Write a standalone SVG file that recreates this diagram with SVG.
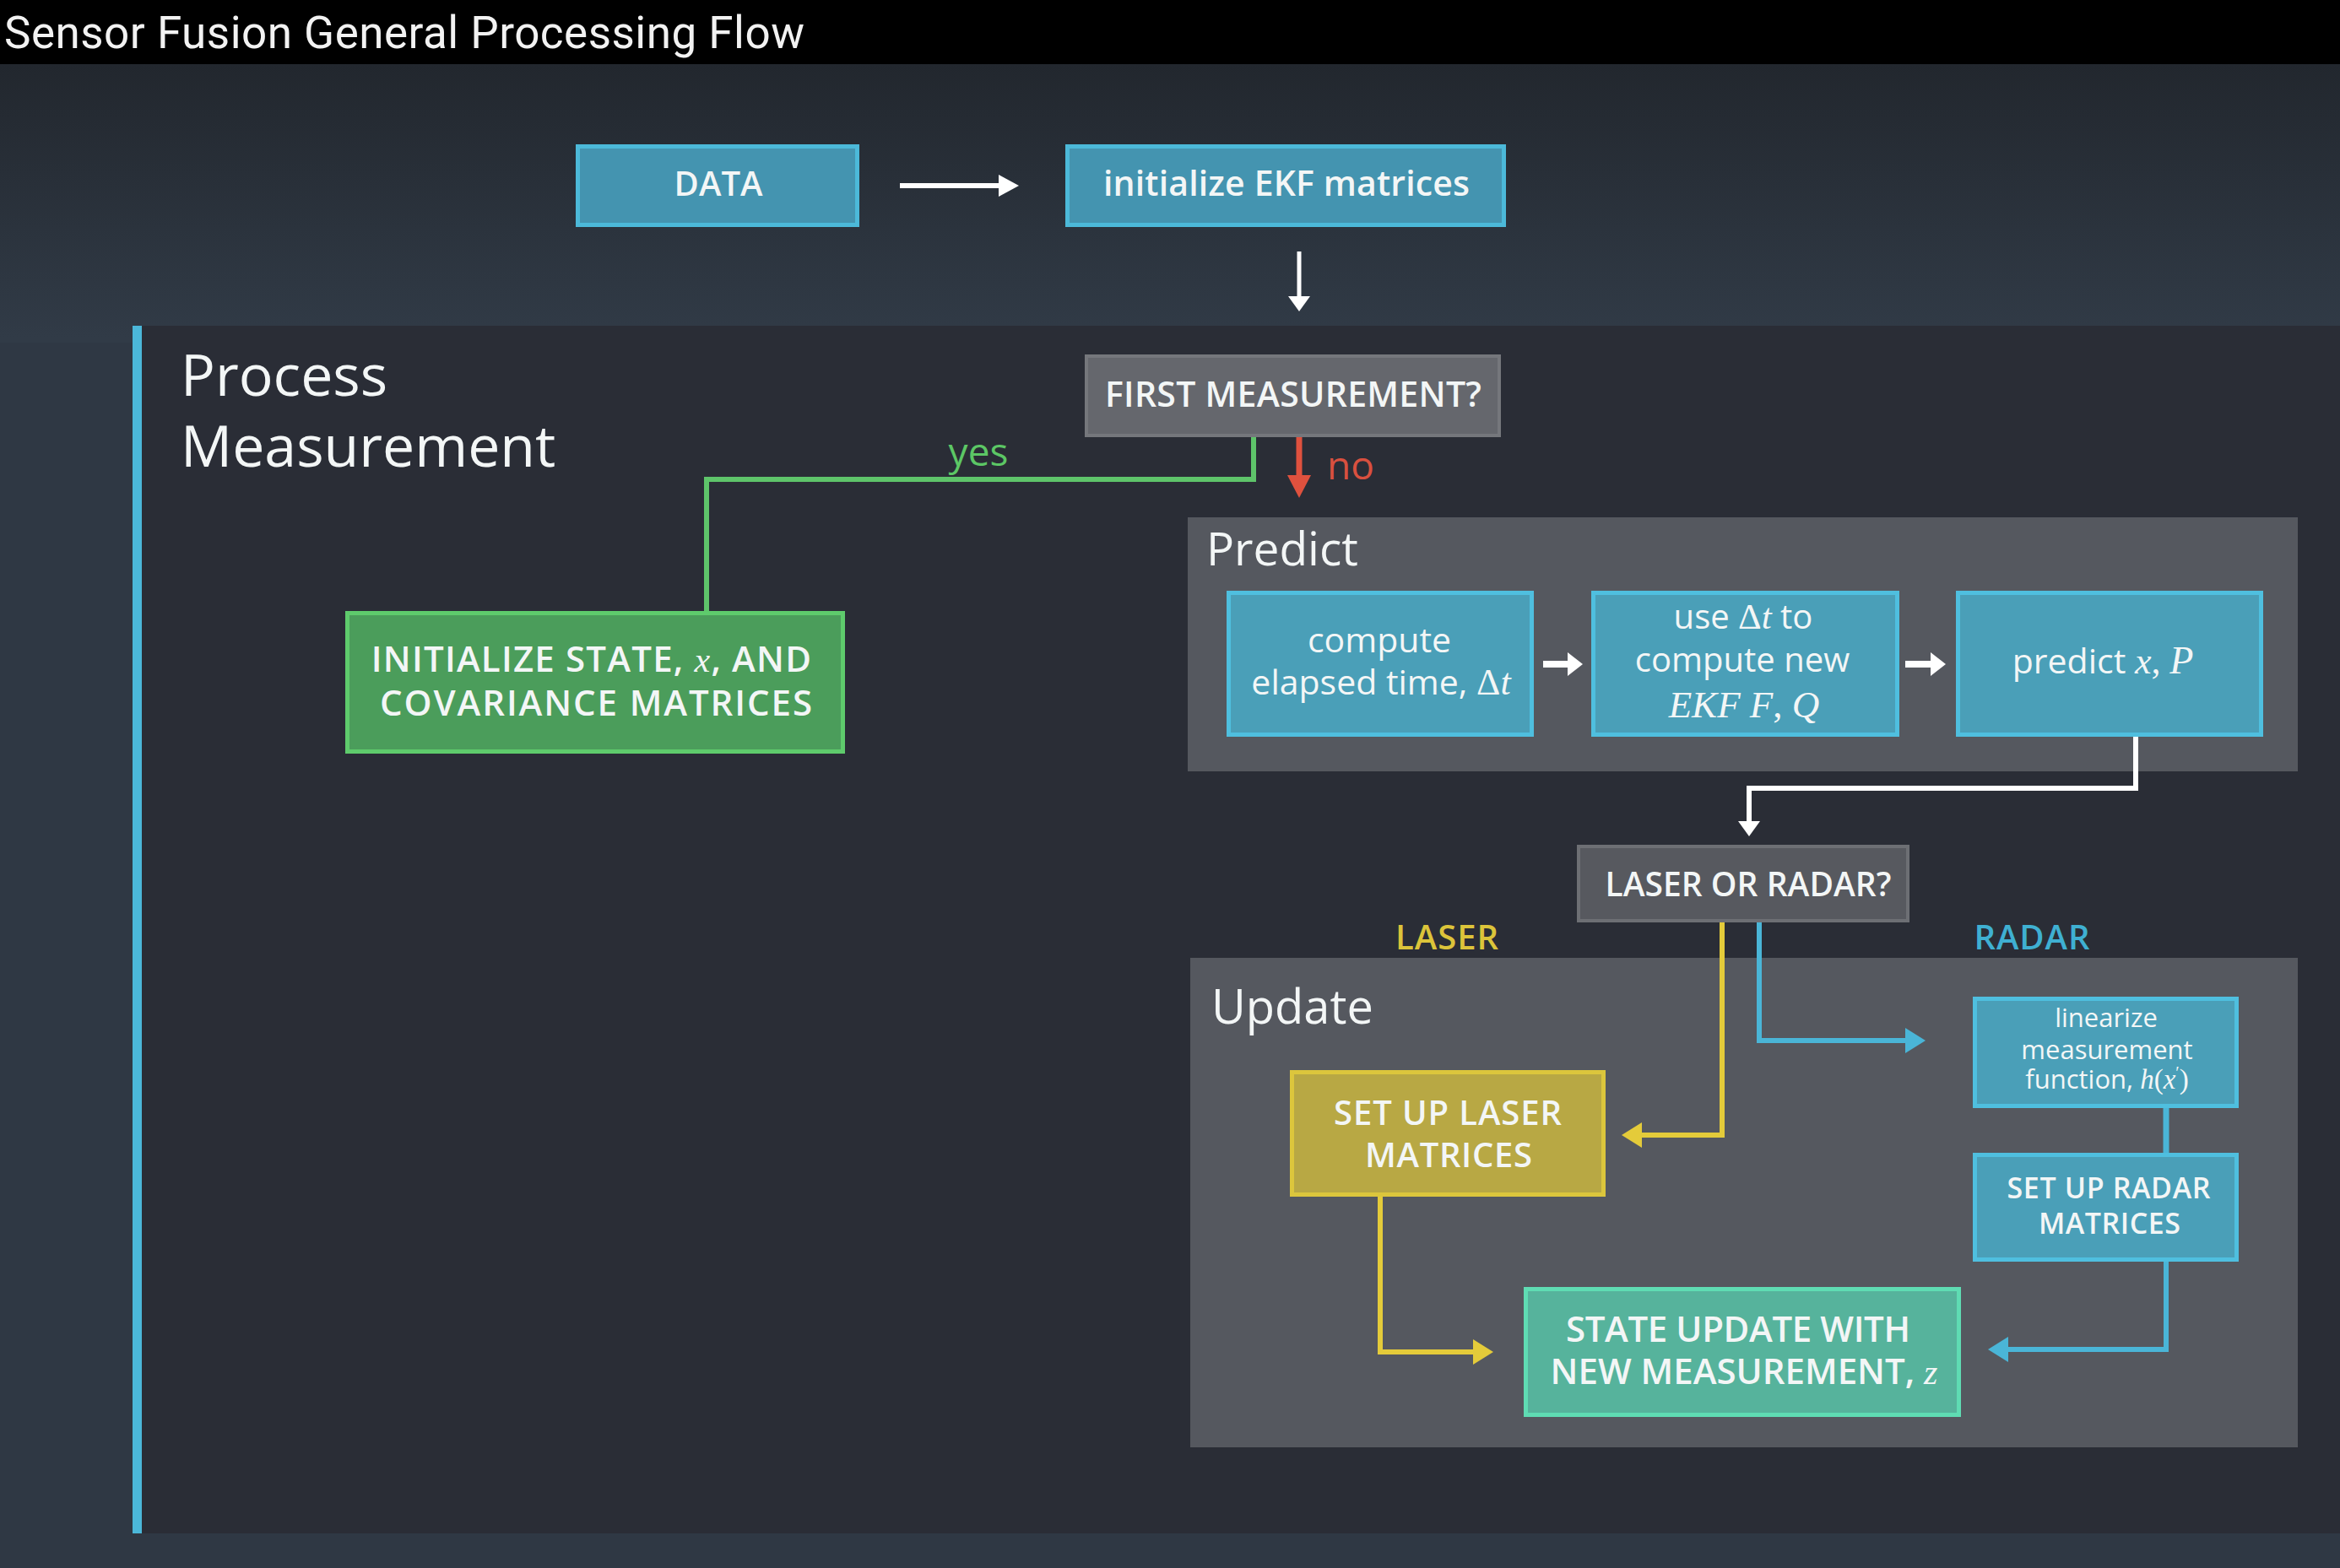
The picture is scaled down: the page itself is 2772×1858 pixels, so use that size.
<svg xmlns="http://www.w3.org/2000/svg" width="2772" height="1858" viewBox="0 0 2772 1858">
<defs>
<linearGradient id="bgTop" x1="0" y1="76" x2="0" y2="400" gradientUnits="userSpaceOnUse">
<stop offset="0" stop-color="#22272e"/>
<stop offset="1" stop-color="#313b47"/>
</linearGradient>
<marker id="hW" viewBox="0 0 24 26" markerWidth="24" markerHeight="26" refX="2" refY="13" orient="auto" markerUnits="userSpaceOnUse"><path d="M0,0 L24,13 L0,26 z" fill="#ffffff"/></marker>
<marker id="hWs" viewBox="0 0 18 26" markerWidth="18" markerHeight="26" refX="2" refY="13" orient="auto" markerUnits="userSpaceOnUse"><path d="M0,0 L18,13 L0,26 z" fill="#ffffff"/></marker>
<marker id="hWp" viewBox="0 0 18 28" markerWidth="18" markerHeight="28" refX="2" refY="14" orient="auto" markerUnits="userSpaceOnUse"><path d="M0,0 L18,14 L0,28 z" fill="#ffffff"/></marker>
<marker id="hR" viewBox="0 0 27 28" markerWidth="27" markerHeight="28" refX="2" refY="14" orient="auto" markerUnits="userSpaceOnUse"><path d="M0,0 L27,14 L0,28 z" fill="#df513e"/></marker>
<marker id="hY" viewBox="0 0 24 30" markerWidth="24" markerHeight="30" refX="2" refY="15" orient="auto" markerUnits="userSpaceOnUse"><path d="M0,0 L24,15 L0,30 z" fill="#e4cb3a"/></marker>
<marker id="hB" viewBox="0 0 24 30" markerWidth="24" markerHeight="30" refX="2" refY="15" orient="auto" markerUnits="userSpaceOnUse"><path d="M0,0 L24,15 L0,30 z" fill="#4ab5d7"/></marker>
</defs>
<style>
.t{font-family:"Open Sans","Liberation Sans",sans-serif;fill:#f3f6f6}
.b{font-weight:600}
.m{font-family:"Liberation Serif",serif;font-style:italic;font-weight:400}
.mu{font-family:"Liberation Serif",serif;font-style:normal;font-weight:400}
.c{text-anchor:middle}
.blue{fill:#4a9fb8;stroke:#4fbfdf;stroke-width:5}
.blueTop{fill:#4494b0;stroke:#4cb9d9;stroke-width:5}
.gray{fill:#65676d;stroke:#75777c;stroke-width:4}
.gray2{fill:#57595f;stroke:#6d6f74;stroke-width:4}
.green{fill:#4b9d5b;stroke:#5ecb6c;stroke-width:5}
.yellow{fill:#b8a844;stroke:#dcc63c;stroke-width:5}
.teal{fill:#56b39c;stroke:#5fdcb3;stroke-width:5}
.panel{fill:#55585f}
.ln{fill:none;stroke-linejoin:miter}
</style>

<!-- background -->
<rect x="0" y="0" width="2772" height="1858" fill="#2f3844"/>
<rect x="0" y="76" width="2772" height="330" fill="url(#bgTop)"/>
<rect x="0" y="0" width="2772" height="76" fill="#000000"/>
<text x="5" y="57" font-family="Roboto,'Liberation Sans',sans-serif" font-size="53" fill="#f2f2f2" textLength="948">Sensor Fusion General Processing Flow</text>

<!-- Process Measurement panel -->
<g id="process-measurement">
<rect x="157" y="386" width="2615" height="1431" fill="#2a2d36"/>
<rect x="157" y="386" width="11" height="1431" fill="#4bb7d9"/>
<text class="t" x="214" y="469" font-size="68">Process</text>
<text class="t" x="214" y="553" font-size="68">Measurement</text>
</g>

<g id="predict-panel">
<rect class="panel" x="1407" y="613" width="1315" height="301"/>
<text class="t" x="1429" y="670" font-size="55">Predict</text>
</g>

<g id="update-panel">
<rect class="panel" x="1410" y="1135" width="1312" height="580"/>
<text class="t" x="1435" y="1213" font-size="56">Update</text>
</g>

<!-- nodes -->
<g id="data">
<rect class="blueTop" x="684.5" y="173.5" width="331" height="93"/>
<text class="t b c" x="851" y="232" font-size="40" textLength="105">DATA</text>
</g>

<g id="init-ekf">
<rect class="blueTop" x="1264.5" y="173.5" width="517" height="93"/>
<text class="t b c" x="1524" y="232" font-size="41" textLength="434">initialize EKF matrices</text>
</g>

<g id="first-measurement">
<rect class="gray" x="1287" y="422" width="489" height="94"/>
<text class="t b c" x="1532" y="482" font-size="41" textLength="446">FIRST MEASUREMENT?</text>
</g>

<g id="initialize-state">
<rect class="green" x="411.5" y="726.5" width="587" height="164"/>
<text class="t b c" x="701" y="796" font-size="42" letter-spacing="1.2">INITIALIZE STATE, <tspan class="m">x</tspan>, AND</text>
<text class="t b c" x="706" y="848" font-size="42" textLength="512">COVARIANCE MATRICES</text>
</g>

<g id="compute-elapsed">
<rect class="blue" x="1455.5" y="702.5" width="359" height="168"/>
<text class="t c" x="1634" y="773" font-size="41">compute</text>
<text class="t c" x="1636" y="823" font-size="41">elapsed time, <tspan class="mu" font-size="44">Δ</tspan><tspan class="m" font-size="44">t</tspan></text>
</g>

<g id="compute-fq">
<rect class="blue" x="1887.5" y="702.5" width="360" height="168"/>
<text class="t c" x="2065" y="745" font-size="40">use <tspan class="mu" font-size="43">Δ</tspan><tspan class="m" font-size="43">t</tspan> to</text>
<text class="t c" x="2064" y="796" font-size="40">compute new</text>
<text class="t c m" x="2066" y="850" font-size="45">EKF F<tspan class="mu">,</tspan> Q</text>
</g>

<g id="predict-xp">
<rect class="blue" x="2319.5" y="702.5" width="359" height="168"/>
<text class="t c" x="2491" y="798" font-size="41">predict <tspan class="m" font-size="44">x</tspan><tspan class="mu" font-size="44">,</tspan> <tspan class="m" font-size="46">P</tspan></text>
</g>

<g id="laser-or-radar">
<rect class="gray2" x="1870" y="1003" width="390" height="88"/>
<text class="t b c" x="2071" y="1062" font-size="39" textLength="339">LASER OR RADAR?</text>
</g>

<g id="setup-laser">
<rect class="yellow" x="1530.5" y="1270.5" width="369" height="145"/>
<text class="t b c" x="1715" y="1333" font-size="40" textLength="270">SET UP LASER</text>
<text class="t b c" x="1716" y="1383" font-size="40" textLength="198">MATRICES</text>
</g>

<g id="linearize">
<rect class="blue" x="2339.5" y="1183.5" width="310" height="127"/>
<text class="t c" x="2495" y="1217" font-size="31">linearize</text>
<text class="t c" x="2496" y="1255" font-size="31">measurement</text>
<text class="t c" x="2496" y="1290" font-size="31">function, <tspan class="m" font-size="33">h</tspan><tspan class="mu" font-size="33">(</tspan><tspan class="m" font-size="33">x</tspan><tspan class="mu" font-size="20" dy="-12">′</tspan><tspan class="mu" font-size="33" dy="12">)</tspan></text>
</g>

<g id="setup-radar">
<rect class="blue" x="2339.5" y="1368.5" width="310" height="124"/>
<text class="t b c" x="2498" y="1420" font-size="34" textLength="241">SET UP RADAR</text>
<text class="t b c" x="2499" y="1462" font-size="34" textLength="168">MATRICES</text>
</g>

<g id="state-update">
<rect class="teal" x="1807.5" y="1527.5" width="513" height="149"/>
<text class="t b c" x="2059" y="1590" font-size="42" textLength="408">STATE UPDATE WITH</text>
<text class="t b c" x="2066" y="1640" font-size="42">NEW MEASUREMENT, <tspan class="m">z</tspan></text>
</g>

<!-- labels -->
<g id="labels">
<text class="t" x="1159" y="552" font-size="46" text-anchor="middle" style="fill:#5cc765">yes</text>
<text class="t" x="1572" y="568" font-size="46" style="fill:#d9503f">no</text>
<text class="t b c" x="1714" y="1125" font-size="40" textLength="122" style="fill:#dcc43a">LASER</text>
<text class="t b c" x="2407" y="1125" font-size="40" textLength="137" style="fill:#3fb0d2">RADAR</text>
</g>

<!-- connectors -->
<g id="connectors">
<path class="ln" d="M1066,220 L1185,220" stroke="#ffffff" stroke-width="6" marker-end="url(#hW)"/>
<path class="ln" d="M1539,298 L1539,353" stroke="#ffffff" stroke-width="5" marker-end="url(#hWs)"/>
<path class="ln" d="M1485,518 L1485,568 L837,568 L837,724" stroke="#5ec46a" stroke-width="6"/>
<path class="ln" d="M1539,518 L1539,565" stroke="#df513e" stroke-width="7" marker-end="url(#hR)"/>
<path class="ln" d="M1828,787 L1859,787" stroke="#ffffff" stroke-width="8" marker-end="url(#hWp)"/>
<path class="ln" d="M2257,787 L2289,787" stroke="#ffffff" stroke-width="8" marker-end="url(#hWp)"/>
<path class="ln" d="M2530,873 L2530,934 L2072,934 L2072,975" stroke="#ffffff" stroke-width="6" marker-end="url(#hWs)"/>
<path class="ln" d="M2040,1093 L2040,1345 L1943,1345" stroke="#e4cb3a" stroke-width="6" marker-end="url(#hY)"/>
<path class="ln" d="M1635,1418 L1635,1602 L1747,1602" stroke="#e4cb3a" stroke-width="6" marker-end="url(#hY)"/>
<path class="ln" d="M2084,1093 L2084,1233 L2259,1233" stroke="#4ab5d7" stroke-width="6" marker-end="url(#hB)"/>
<path class="ln" d="M2566,1313 L2566,1366" stroke="#4ab5d7" stroke-width="7"/>
<path class="ln" d="M2566,1495 L2566,1599 L2377,1599" stroke="#4ab5d7" stroke-width="6" marker-end="url(#hB)"/>
</g>
</svg>
